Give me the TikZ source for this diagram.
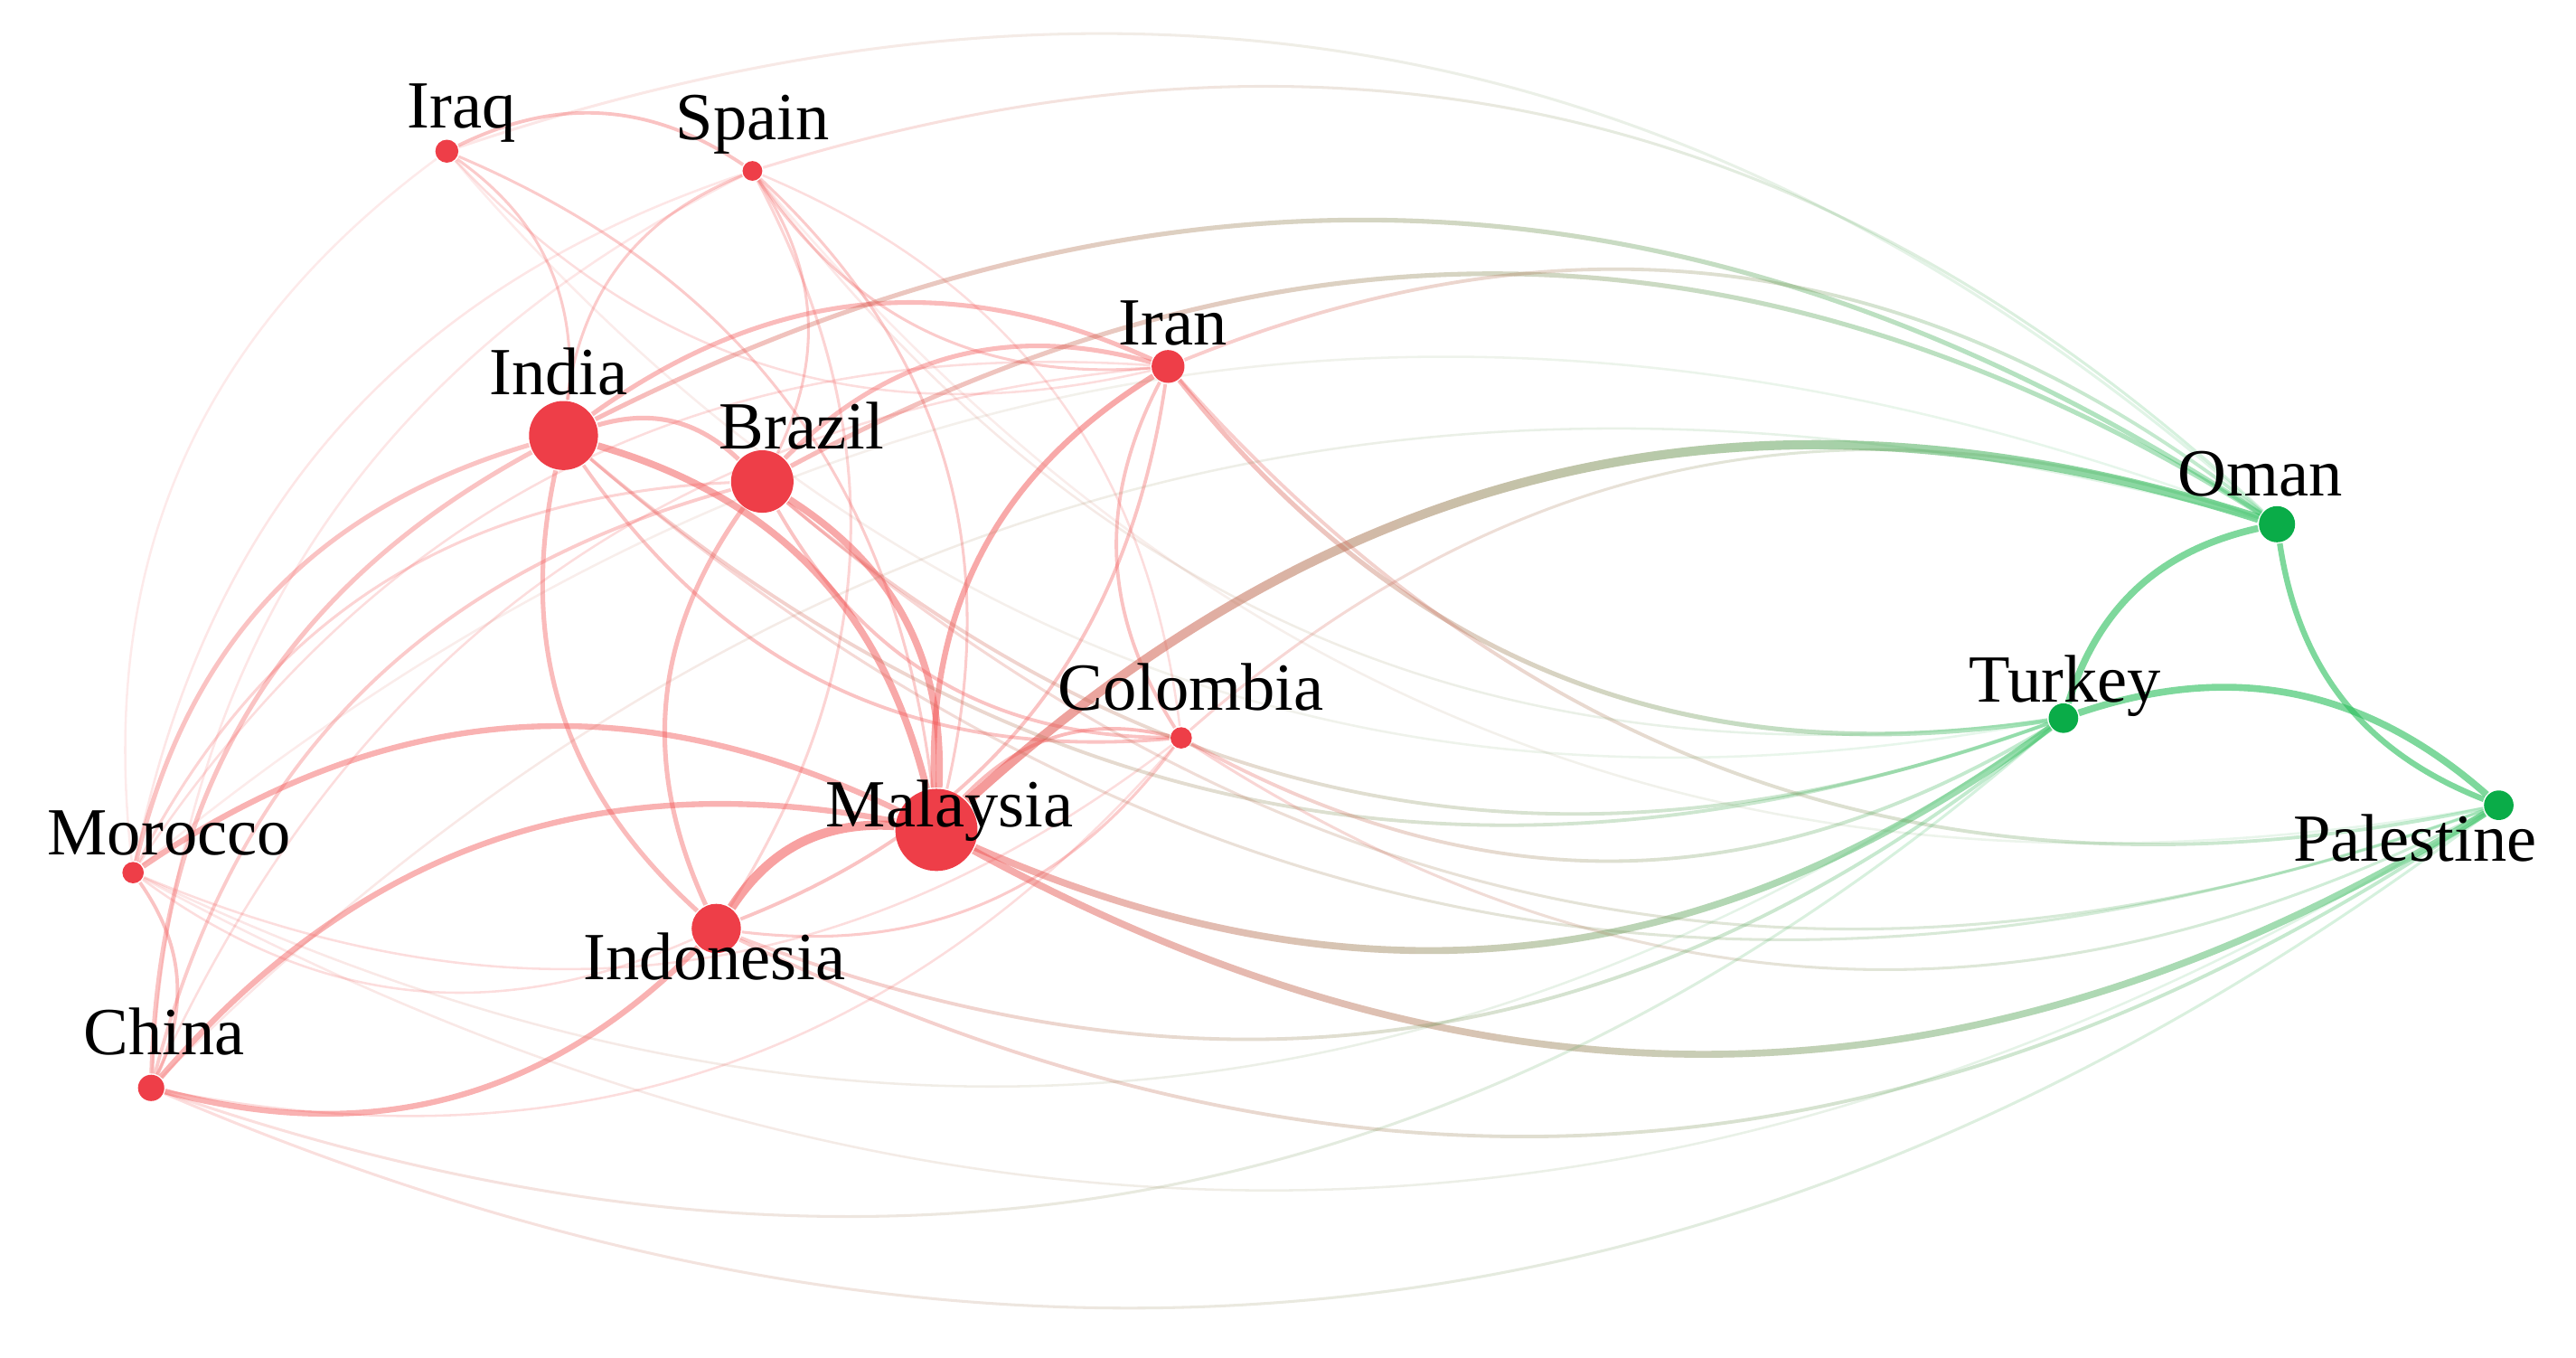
\documentclass[tikz,border=0pt]{standalone}
\usepackage{fontspec}
\setmainfont{Liberation Serif}
\usetikzlibrary{fadings}
\definecolor{ered}{RGB}{242,84,84}
\definecolor{egreen}{RGB}{40,190,90}
\definecolor{nred}{RGB}{238,62,72}
\definecolor{ngreen}{RGB}{10,172,72}
\tikzfading[name=fadeR, left color=transparent!0, right color=transparent!100]
\tikzfading[name=fadeG, left color=transparent!100, right color=transparent!0]
\pgfdeclarelayer{bg}
\pgfsetlayers{bg,main}
\tikzset{
 re/.style 2 args={draw=ered, line width=#1*0.35pt, draw opacity=#2},
 ge/.style 2 args={draw=egreen, line width=#1*0.35pt, draw opacity=#2},
 xe/.style 2 args={line width=#1*0.35pt,
   postaction={draw=ered, draw opacity=#2, path fading=fadeR},
   postaction={draw=egreen, draw opacity=#2, path fading=fadeG}},
 rdot/.style={circle, inner sep=0pt, minimum size=#1*0.25pt, fill=nred},
 gdot/.style={circle, inner sep=0pt, minimum size=#1*0.25pt, fill=ngreen},
 lab/.style={font=\fontsize{10.25}{12}\selectfont, inner sep=0pt, anchor=base, text=black},
 bl/.style={bend left=30}, br/.style={bend right=30},
}
\begin{document}
\begin{tikzpicture}[x=0.25pt,y=0.25pt]
\useasboundingbox (0,0) rectangle (1568,-826);
% nodes
\node[rdot=14] (iraq) at (272,-92) {};
\node[rdot=12] (spain) at (458,-104) {};
\node[rdot=42] (india) at (343,-265) {};
\node[rdot=38] (brazil) at (464,-293) {};
\node[rdot=20] (iran) at (711,-223) {};
\node[rdot=13] (colombia) at (719,-449) {};
\node[rdot=50] (malaysia) at (570,-505) {};
\node[rdot=30] (indonesia) at (436,-565) {};
\node[rdot=13] (morocco) at (81,-531) {};
\node[rdot=16] (china) at (92,-662) {};
\node[gdot=22] (oman) at (1386,-319) {};
\node[gdot=18] (turkey) at (1256,-437) {};
\node[gdot=18] (palestine) at (1521,-490) {};
% labels
\node[lab] (iraqL) at (281,-78) {Iraq};
\node[lab] (spainL) at (458,-85) {Spain};
\node[lab] (indiaL) at (340,-240) {India};
\node[lab] (brazilL) at (488,-273) {Brazil};
\node[lab] (iranL) at (714,-210) {Iran};
\node[lab] (colombiaL) at (725,-432) {Colombia};
\node[lab] (malaysiaL) at (578,-503) {Malaysia};
\node[lab] (indonesiaL) at (435,-596) {Indonesia};
\node[lab] (moroccoL) at (103,-520) {Morocco};
\node[lab] (chinaL) at (100,-642) {China};
\node[lab] (omanL) at (1376,-302) {Oman};
\node[lab] (turkeyL) at (1257,-427) {Turkey};
\node[lab] (palestineL) at (1470,-524) {Palestine};
\begin{pgfonlayer}{bg}
% red cluster
\draw[re={1.5}{0.35}] (iraq) to[bl] (spain);
\draw[re={1.2}{0.3}] (iraq) to[bl] (india);
\draw[re={1.2}{0.3}] (iraq) to[bl] (malaysia);
\draw[re={1}{0.12}] (morocco) to[bl] (iraq);
\draw[re={1}{0.2}] (iraq) to[br] (iran);
\draw[re={1.2}{0.3}] (india) to[bl] (spain);
\draw[re={1.2}{0.3}] (brazil) to[br] (spain);
\draw[re={1.2}{0.3}] (spain) to[bl] (malaysia);
\draw[re={1.2}{0.25}] (indonesia) to[br] (spain);
\draw[re={1}{0.15}] (morocco) to[bl] (spain);
\draw[re={1}{0.15}] (china) to[bl] (spain);
\draw[re={1}{0.2}] (spain) to[bl] (colombia);
\draw[re={1.2}{0.3}] (spain) to[br] (iran);
\draw[re={2}{0.4}] (india) to[bl] (brazil);
\draw[re={3}{0.5}] (india) to[bl] (malaysia);
\draw[re={2}{0.4}] (india) to[br] (indonesia);
\draw[re={2}{0.4}] (india) to[bl] (iran);
\draw[re={1.5}{0.35}] (india) to[br] (colombia);
\draw[re={2}{0.35}] (morocco) to[bl] (india);
\draw[re={2}{0.35}] (china) to[bl] (india);
\draw[re={3}{0.5}] (brazil) to[bl] (malaysia);
\draw[re={2}{0.4}] (indonesia) to[bl] (brazil);
\draw[re={2}{0.4}] (brazil) to[bl] (iran);
\draw[re={1.5}{0.35}] (brazil) to[br] (colombia);
\draw[re={1.2}{0.25}] (morocco) to[bl] (brazil);
\draw[re={1.5}{0.3}] (china) to[bl] (brazil);
\draw[re={4}{0.55}] (indonesia) to[bl] (malaysia);
\draw[re={2.5}{0.5}] (malaysia) to[bl] (iran);
\draw[re={1.5}{0.4}] (malaysia) to[bl] (colombia);
\draw[re={2.5}{0.45}] (morocco) to[bl] (malaysia);
\draw[re={2.5}{0.45}] (china) to[bl] (malaysia);
\draw[re={2.5}{0.45}] (china) to[br] (indonesia);
\draw[re={1.5}{0.35}] (morocco) to[bl] (china);
\draw[re={1}{0.2}] (china) to[bl] (iran);
\draw[re={1}{0.2}] (china) to[br] (colombia);
\draw[re={1}{0.2}] (morocco) to[bl] (iran);
\draw[re={1}{0.2}] (morocco) to[br] (colombia);
\draw[re={1}{0.2}] (morocco) to[br] (indonesia);
\draw[re={1.5}{0.35}] (indonesia) to[br] (iran);
\draw[re={1.2}{0.3}] (indonesia) to[br] (colombia);
\draw[re={1.5}{0.35}] (iran) to[br] (colombia);
% cross-cluster
\path[xe={4}{0.6}] (malaysia) to[bl] (oman);
\path[xe={3}{0.5}] (malaysia) to[br] (turkey);
\path[xe={3}{0.5}] (malaysia) to[br] (palestine);
\path[xe={2}{0.4}] (india) to[bl] (oman);
\path[xe={1.5}{0.3}] (india) to[br] (turkey);
\path[xe={1.2}{0.25}] (india) to[br] (palestine);
\path[xe={2}{0.4}] (brazil) to[bl] (oman);
\path[xe={1.5}{0.3}] (brazil) to[br] (turkey);
\path[xe={1.2}{0.25}] (brazil) to[br] (palestine);
\path[xe={1.5}{0.3}] (iran) to[bl] (oman);
\path[xe={2}{0.4}] (iran) to[br] (turkey);
\path[xe={1.5}{0.3}] (iran) to[br] (palestine);
\path[xe={1.2}{0.25}] (colombia) to[bl] (oman);
\path[xe={1.5}{0.3}] (colombia) to[br] (turkey);
\path[xe={1.2}{0.25}] (colombia) to[br] (palestine);
\path[xe={1.5}{0.3}] (indonesia) to[br] (turkey);
\path[xe={1.5}{0.3}] (indonesia) to[br] (palestine);
\path[xe={1.2}{0.2}] (china) to[br] (turkey);
\path[xe={1.2}{0.2}] (china) to[br] (palestine);
\path[xe={1}{0.15}] (china) to[bl] (oman);
\path[xe={1}{0.15}] (morocco) to[br] (turkey);
\path[xe={1}{0.15}] (morocco) to[br] (palestine);
\path[xe={1}{0.12}] (morocco) to[bl] (oman);
\path[xe={1.2}{0.15}] (iraq) to[bl] (oman);
\path[xe={1.2}{0.2}] (spain) to[bl] (oman);
\path[xe={1}{0.15}] (spain) to[br] (turkey);
\path[xe={1}{0.12}] (spain) to[br] (palestine);
\path[xe={1}{0.12}] (iraq) to[br] (turkey);
% green cluster
\draw[ge={3}{0.6}] (turkey) to[bl] (oman);
\draw[ge={2.5}{0.6}] (oman) to[br] (palestine);
\draw[ge={3}{0.6}] (turkey) to[bl] (palestine);
\end{pgfonlayer}
\end{tikzpicture}
\end{document}
